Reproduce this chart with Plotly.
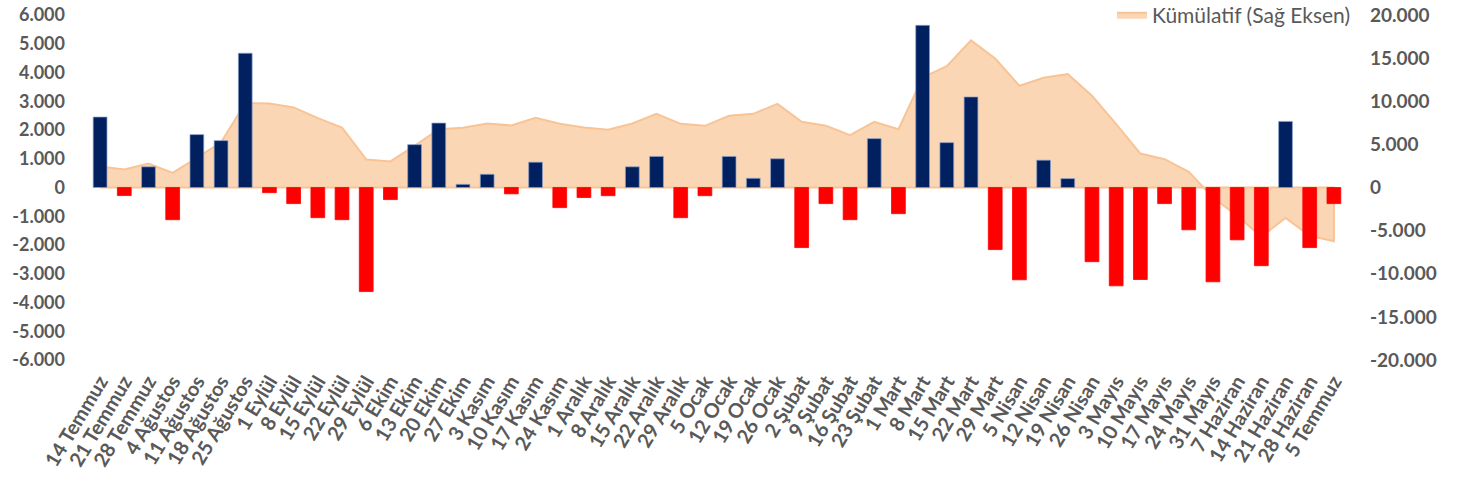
import plotly.graph_objects as go

categories = ["14 Temmuz", "21 Temmuz", "28 Temmuz", "4 Ağustos", "11 Ağustos", "18 Ağustos",
              "25 Ağustos", "1 Eylül", "8 Eylül", "15 Eylül", "22 Eylül", "29 Eylül",
              "6 Ekim", "13 Ekim", "20 Ekim", "27 Ekim", "3 Kasım", "10 Kasım", "17 Kasım",
              "24 Kasım", "1 Aralık", "8 Aralık", "15 Aralık", "22 Aralık", "29 Aralık",
              "5 Ocak", "12 Ocak", "19 Ocak", "26 Ocak", "2 Şubat", "9 Şubat", "16 Şubat",
              "23 Şubat", "1 Mart", "8 Mart", "15 Mart", "22 Mart", "29 Mart", "5 Nisan",
              "12 Nisan", "19 Nisan", "26 Nisan", "3 Mayıs", "10 Mayıs", "17 Mayıs",
              "24 Mayıs", "31 Mayıs", "7 Haziran", "14 Haziran", "21 Haziran", "28 Haziran",
              "5 Temmuz"]

weekly = [2450, -280, 720, -1120, 1840, 1630, 4670, -180, -560, -1050, -1120, -3620,
          -420, 1490, 2240, 110, 460, -220, 880, -700, -350, -285, 720, 1080, -1050,
          -285, 1080, 320, 1000, -2090, -560, -1120, 1700, -910, 5640, 1560, 3150,
          -2160, -3210, 950, 310, -2580, -3420, -3200, -560, -1470, -3280, -1820,
          -2720, 2300, -2090, -560]

cumulative = [2440, 2090, 2780, 1690, 3450, 5250, 9780, 9740, 9280, 8040, 6960, 3250,
              3020, 4830, 6760, 6920, 7420, 7190, 8080, 7400, 6960, 6690, 7420, 8540,
              7380, 7150, 8310, 8540, 9700, 7610, 7170, 6070, 7610, 6760, 12760, 14070,
              17050, 14960, 11790, 12720, 13140, 10630, 7340, 3940, 3280, 1810, -1160,
              -3270, -5700, -3520, -5600, -6230]

left_ticks = [-6000, -5000, -4000, -3000, -2000, -1000, 0, 1000, 2000, 3000, 4000, 5000, 6000]
left_labels = ["-6.000", "-5.000", "-4.000", "-3.000", "-2.000", "-1.000", "0",
               "1.000", "2.000", "3.000", "4.000", "5.000", "6.000"]
right_ticks = [-20000, -15000, -10000, -5000, 0, 5000, 10000, 15000, 20000]
right_labels = ["-20.000", "-15.000", "-10.000", "-5.000", "0",
                "5.000", "10.000", "15.000", "20.000"]

series_name = "Kümülatif (Sağ Eksen)"

POS = "#002060"
NEG = "#FF0000"
bar_colors = [POS if v >= 0 else NEG for v in weekly]
bar_lines = ["rgba(140,160,200,0.9)" if v >= 0 else NEG for v in weekly]

TXT = "#595959"
FONT = "Lato"

fig = go.Figure()

# cumulative area as closed polygon (border on baseline like Excel)
fig.add_trace(go.Scatter(
    x=categories + categories[::-1],
    y=cumulative + [0] * len(categories),
    yaxis="y",
    mode="lines",
    fill="toself",
    fillcolor="rgb(251,214,181)",
    line=dict(color="rgb(248,196,150)", width=2),
    name=series_name,
    showlegend=True,
    hoverinfo="skip",
))

fig.add_trace(go.Bar(
    x=categories,
    y=weekly,
    yaxis="y2",
    marker=dict(color=bar_colors, line=dict(color=bar_lines, width=0.8)),
    showlegend=False,
    name="Haftalık",
))

fig.update_layout(
    width=1458,
    height=494,
    margin=dict(l=88, r=112, t=15, b=134, autoexpand=False),
    paper_bgcolor="white",
    plot_bgcolor="white",
    bargap=0.43,
    font=dict(family=FONT, color=TXT),
    xaxis=dict(
        type="category",
        categoryorder="array",
        categoryarray=categories,
        tickangle=-59,
        tickfont=dict(family=FONT, size=20, color=TXT, weight="bold"),
        showgrid=False,
        zeroline=False,
        showline=False,
        ticks="",
        ticklabelstandoff=5,
    ),
    yaxis=dict(
        side="right",
        range=[-20000, 20000],
        tickvals=right_ticks,
        ticktext=right_labels,
        showgrid=False,
        zeroline=False,
        showline=False,
        tickfont=dict(family=FONT, size=19, color=TXT, weight="bold"),
        ticklabelstandoff=23,
    ),
    yaxis2=dict(
        side="left",
        overlaying="y",
        range=[-6000, 6000],
        tickvals=left_ticks,
        ticktext=left_labels,
        showgrid=False,
        zeroline=False,
        showline=False,
        tickfont=dict(family=FONT, size=18, color=TXT, weight="bold"),
        ticklabelstandoff=22,
    ),
    legend=dict(
        x=0.814, y=1.0, xanchor="left", yanchor="middle",
        bgcolor="rgba(0,0,0,0)",
        font=dict(family=FONT, size=21, color=TXT),
        itemwidth=30,
    ),
)

fig.write_html("out.html", config={"displayModeBar": False},
               post_script="document.body.style.margin='0';")
